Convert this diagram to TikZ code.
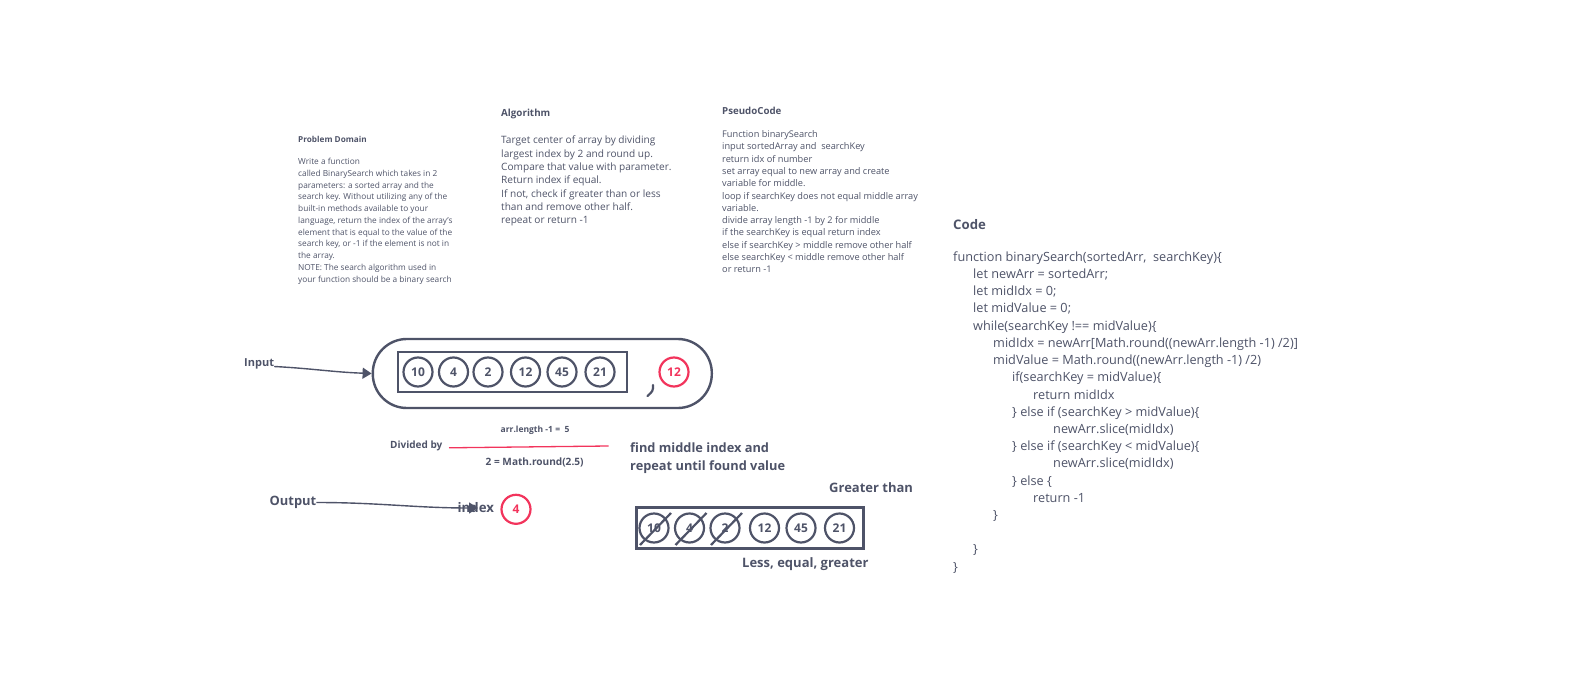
\documentclass[tikz,border=0pt]{standalone}
\usepackage{fontspec}
\setmainfont{Open Sans}
\usetikzlibrary{arrows.meta}
\definecolor{slate}{RGB}{78,83,104}
\definecolor{keyred}{RGB}{242,52,92}
\def\numnode{\node[circle,draw=slate,line width=2.2pt,minimum size=29pt,inner sep=0pt,text=slate,font=\fontsize{12}{12}\selectfont\bfseries]}
\def\rednode{\node[circle,draw=keyred,line width=2.2pt,minimum size=29pt,inner sep=0pt,text=keyred,font=\fontsize{12}{12}\selectfont\bfseries]}
\def\drawslate{\draw[color=slate, line width=2.2pt]}

\begin{document}
\begin{tikzpicture}[x=1pt,y=-1pt,
  every node/.style={text=slate},
  head/.style={anchor=base west,inner sep=0pt,font=\fontsize{#1}{#1}\selectfont\bfseries},
  body/.style={anchor=base west,inner sep=0pt,align=left},
  lbl/.style={anchor=west,inner sep=0pt,font=\fontsize{#1}{#1}\selectfont\bfseries},
  arrowline/.style={color=slate,line width=1.4pt,-{Triangle[length=9pt,width=11pt]}}]
\useasboundingbox (0,0) rectangle (1587,679);

\node[head=8.2] (probhead) at (298,143) {Problem Domain};
\node[body,font=\fontsize{8.3}{11.75}\selectfont] (probtext) at (298,282.2) {Write a function\\
called BinarySearch which takes in 2\\
parameters: a sorted array and the\\
search key. Without utilizing any of the\\
built-in methods available to your\\
language, return the index of the array's\\
element that is equal to the value of the\\
search key, or -1 if the element is not in\\
the array.\\
NOTE: The search algorithm used in\\
your function should be a binary search};

\node[head=9.8] (alghead) at (501,116.4) {Algorithm};
\node[body,font=\fontsize{10.1}{13.33}\selectfont] (algtext) at (501,223.8) {Target center of array by dividing\\
largest index by 2 and round up.\\
Compare that value with parameter.\\
Return index if equal.\\
If not, check if greater than or less\\
than and remove other half.\\
repeat or return -1};

\node[head=9.7] (pseudohead) at (722,114.4) {PseudoCode};
\node[body,font=\fontsize{9.2}{12.3}\selectfont] (pseudotext) at (722,272.8) {Function binarySearch\\
input sortedArray and \ searchKey\\
return idx of number\\
set array equal to new array and create\\
variable for middle.\\
loop if searchKey does not equal middle array\\
variable.\\
divide array length -1 by 2 for middle\\
if the searchKey is equal return index\\
else if searchKey > middle remove other half\\
else searchKey < middle remove other half\\
or return -1};

\node[head=13.2] (codehead) at (953,229.6) {Code};
\node[body,font=\fontsize{12.7}{17.22}\selectfont] (codetext) at (953,571.2) {function binarySearch(sortedArr, \ searchKey)\{\\
\hspace*{20pt}let newArr = sortedArr;\\
\hspace*{20pt}let midIdx = 0;\\
\hspace*{20pt}let midValue = 0;\\
\hspace*{20pt}while(searchKey !== midValue)\{\\
\hspace*{40pt}midIdx = newArr[Math.round((newArr.length -1) /2)]\\
\hspace*{40pt}midValue = Math.round((newArr.length -1) /2)\\
\hspace*{59pt}if(searchKey = midValue)\{\\
\hspace*{80pt}return midIdx\\
\hspace*{59pt}\} else if (searchKey > midValue)\{\\
\hspace*{100pt}newArr.slice(midIdx)\\
\hspace*{59pt}\} else if (searchKey < midValue)\{\\
\hspace*{100pt}newArr.slice(midIdx)\\
\hspace*{59pt}\} else \{\\
\hspace*{80pt}return -1\\
\hspace*{40pt}\}\\
~\\
\hspace*{20pt}\}\\
\}};

\node[lbl=11] (input) at (244,363.5) {Input};
\node[draw=slate,line width=2.4pt,rounded corners=34pt,minimum width=339pt,minimum height=69pt] (frame) at (542.3,373.5) {};
\node[draw=slate,line width=2.2pt,minimum width=229pt,minimum height=40.5pt] (arr) at (512.5,372) {};
\foreach \v/\x [count=\i] in {10/418,4/453.5,2/488,12/525.5,45/562,21/600}
  \numnode (a\i) at (\x,372) {\v};
\rednode (key) at (674,372) {12};
\drawslate[line cap=round] (653,385) .. controls (653,391) .. (647.5,396);
\draw[arrowline] ([yshift=-3pt]input.east) to[out=-3,in=178] (frame.west);

\node[lbl=8.5] (lenlabel) at (500.5,430.6) {arr.length -1 = \ 5};
\node[lbl=10] (divby) at (390,445.5) {Divided by};
\draw[keyred,line width=1.3pt] (449,447.8) -- (608.5,446);
\node[lbl=10.1] (roundlabel) at (485.5,462.8) {2 = Math.round(2.5)};
\node[lbl=12.8,align=left,font=\fontsize{12.8}{18.3}\selectfont\bfseries] (findtext) at (630,458.3) {find middle index and\\repeat until found value};

\node[lbl=12.9] (output) at (269.5,502.5) {Output};
\node[lbl=13.2] (index) at (457.5,507.5) {index};
\coordinate (outtip) at (478,508);
\draw[arrowline] (output.east) to[out=0,in=180] (outtip);
\rednode (res) at (516,509.3) {4};

\node[lbl=13] (greater) at (829,487.3) {Greater than};
\node[draw=slate,line width=2.2pt,minimum width=227pt,minimum height=41pt] (arr2) at (750,528) {};
\foreach \v/\x [count=\i] in {10/654,4/689.5,2/725,12/764.5,45/801,21/839.5}
  \numnode (b\i) at (\x,528) {\v};
\foreach \i in {1,2,3}
  \drawslate ([shift={(-14,17)}]b\i.center) -- ([shift={(17,-15)}]b\i.center);
\node[lbl=13] (lessgreater) at (742,564) {Less, equal, greater};
\end{tikzpicture}
\end{document}
